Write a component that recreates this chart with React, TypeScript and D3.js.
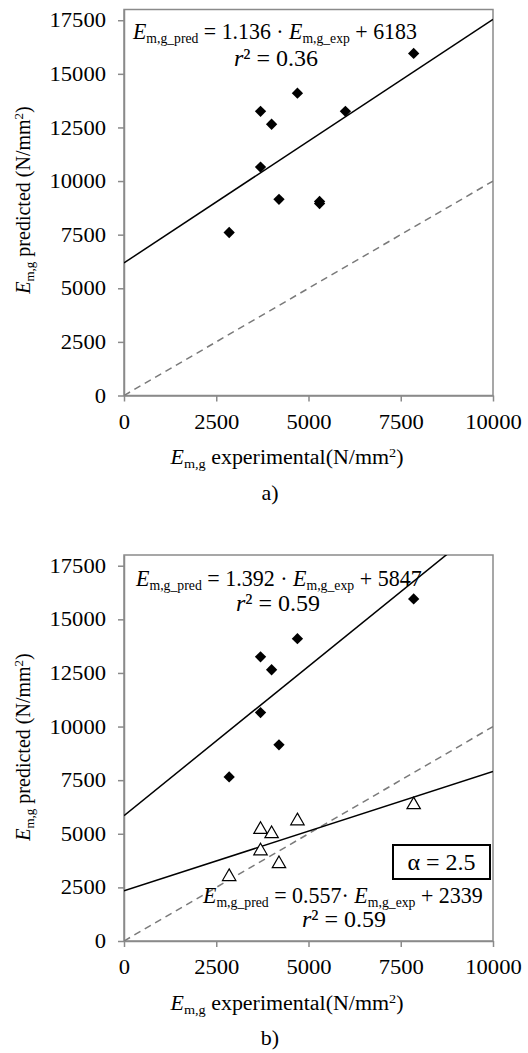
import React, { useEffect, useRef } from "react";
import * as d3 from "d3";

// axis ticks
const xTicks = [0, 2500, 5000, 7500, 10000];
const yTicks = [0, 2500, 5000, 7500, 10000, 12500, 15000, 17500];

// panel a) experimental vs predicted
const expA = [2850, 3700, 3700, 4000, 4200, 4700, 5300, 5300, 6000, 7850];
const predA = [7600, 10650, 13250, 12650, 9150, 14100, 9050, 8950, 13250, 15950];

// panel b) same specimens, two models
const expB = [2850, 3700, 3700, 4000, 4200, 4700, 7850];
const predB = [7650, 10650, 13250, 12650, 9150, 14100, 15950];
const predBAlpha = [3000, 4200, 5200, 5000, 3600, 5600, 6350];

// regression fits [slope, intercept, r2]
const fitA = [1.136, 6183, 0.36];
const fitB = [1.392, 5847, 0.59];
const fitBAlpha = [0.557, 2339, 0.59];

const FONT = '"Liberation Serif"';

type Part = { t: string; it?: boolean; sh?: number; fs?: number };

function rich(parent: any, parts: Part[], size: number) {
  const t = parent.append("text")
    .style("font-size", size + "px")
    .style("font-family", FONT)
    .attr("fill", "#000")
    .style("white-space", "pre");
  let cur = 0;
  parts.forEach(p => {
    const s = t.append("tspan").text(p.t);
    if (p.it) s.style("font-style", "italic");
    if (p.fs) s.style("font-size", p.fs + "px");
    const sh = p.sh || 0;
    if (sh !== cur) s.attr("dy", sh - cur);
    cur = sh;
  });
  return t;
}

// place a text so that it starts at x (or centred on x) and spans width w
function place(t: any, x: number, y: number, w: number | null, anchor = "start") {
  const len = (t.node() as SVGTextElement).getComputedTextLength();
  const sx = w ? w / len : 1;
  t.attr("text-anchor", anchor).attr("transform", `translate(${x},${y}) scale(${sx},1)`);
}

function eqParts(fit: number[], sep: string): Part[] {
  return [
    { t: "E", it: true },
    { t: "m,g_pred", fs: 15, sh: 4 },
    { t: ` = ${fit[0].toFixed(3)}${sep}· ` },
    { t: "E", it: true },
    { t: "m,g_exp", fs: 15, sh: 4 },
    { t: ` + ${fit[1]}` },
  ];
}

function r2Parts(fit: number[]): Part[] {
  return [{ t: "r", it: true }, { t: `² = ${fit[2].toFixed(2)}` }];
}

function drawPanel(svg: any, p: any) {
  const x = d3.scaleLinear().domain([0, 10000]).range([124, 493]);
  const y = d3.scaleLinear().domain([0, 18000]).range([p.bottom, p.bottom - 386]);
  const g = svg.append("g");

  const clipId = "clip-" + p.id;
  svg.append("clipPath").attr("id", clipId)
    .append("rect")
    .attr("x", x(0)).attr("y", y(18000))
    .attr("width", x(10000) - x(0)).attr("height", y(0) - y(18000));

  // frame
  g.append("rect")
    .attr("x", x(0)).attr("y", y(18000))
    .attr("width", x(10000) - x(0)).attr("height", y(0) - y(18000))
    .attr("fill", "none").attr("stroke", "#8a8a8a").attr("stroke-width", 1.5);

  const yAxis = g.append("g").attr("transform", `translate(${x(0)},0)`)
    .call(d3.axisLeft(y).tickValues(yTicks).tickSize(6).tickSizeOuter(0).tickFormat(d3.format("d")));
  const xAxis = g.append("g").attr("transform", `translate(0,${y(0)})`)
    .call(d3.axisBottom(x).tickValues(xTicks).tickSize(6).tickSizeOuter(0).tickFormat(d3.format("d")));
  [yAxis, xAxis].forEach(a => {
    a.attr("font-family", FONT).attr("font-size", null);
    a.select(".domain").attr("stroke", "#8a8a8a").attr("stroke-width", 1.5);
    a.selectAll(".tick line").attr("stroke", "#8a8a8a").attr("stroke-width", 1.5);
    a.selectAll("text").style("font-family", FONT).style("font-size", "20px").attr("fill", "#000");
  });
  yAxis.selectAll("text").attr("x", 0).attr("dy", "0.33em").attr("transform", "translate(-18,0) scale(1.13,1)");
  xAxis.selectAll("text").attr("y", 0).attr("dy", 0).attr("transform", "translate(0,33) scale(1.13,1)");

  const plot = g.append("g").attr("clip-path", `url(#${clipId})`);

  // 1:1 line
  plot.append("path")
    .attr("d", d3.line()([[x(0), y(0)], [x(10000), y(10000)]]))
    .attr("stroke", "#7a7a7a").attr("stroke-width", 1.5).attr("stroke-dasharray", "7,5").attr("fill", "none");

  // regression lines
  p.fits.forEach((f: number[]) => {
    const line = d3.line<number>().x(d => x(d)).y(d => y(f[0] * d + f[1]));
    plot.append("path").attr("d", line([0, 10000]))
      .attr("stroke", "#000").attr("stroke-width", 1.5).attr("fill", "none");
  });

  // markers
  p.series.forEach((s: any) => {
    const sym = s.kind === "diamond"
      ? d3.symbol().type(d3.symbolSquare).size(64)
      : d3.symbol().type(d3.symbolTriangle).size(78);
    g.append("g").selectAll("path")
      .data(s.x.map((v: number, i: number) => [v, s.y[i]]))
      .join("path")
      .attr("d", sym())
      .attr("transform", (d: number[]) => `translate(${x(d[0])},${y(d[1])})` + (s.kind === "diamond" ? " rotate(45)" : ""))
      .attr("fill", s.kind === "diamond" ? "#000" : "#fff")
      .attr("stroke", "#000")
      .attr("stroke-width", s.kind === "diamond" ? 0 : 1.2);
  });

  // equations
  p.eqs.forEach((e: any) => {
    place(rich(g, eqParts(e.fit, e.sep), 24), e.x, e.y, e.w);
    place(rich(g, r2Parts(e.fit), 24), e.rx, e.ry, null, "middle");
  });

  if (p.alpha) {
    g.append("rect").attr("x", 393).attr("y", p.alpha.y)
      .attr("width", 97).attr("height", 34)
      .attr("fill", "#fff").attr("stroke", "#000").attr("stroke-width", 2);
    place(rich(g, [{ t: p.alpha.text }], 24), 441.5, p.alpha.y + 25, null, "middle");
  }

  // axis titles
  const yl = rich(g, [
    { t: "E", it: true },
    { t: "m,g", fs: 13, sh: 4 },
    { t: " predicted (N/mm" },
    { t: "2", fs: 13, sh: -7 },
    { t: ")" },
  ], 20).attr("text-anchor", "middle");
  yl.attr("transform", `translate(30,${p.yLabel}) rotate(-90)`);

  place(rich(g, [
    { t: "E", it: true },
    { t: "m,g", fs: 13, sh: 4 },
    { t: " experimental(N/mm" },
    { t: "2", fs: 13, sh: -7 },
    { t: ")" },
  ], 20), 287, p.xLabel, 233, "middle");

  place(rich(g, [{ t: p.tag }], 22), 270, p.tagY, null, "middle");
}

export default function App() {
  const ref = useRef<SVGSVGElement>(null);
  useEffect(() => {
    const svg = d3.select(ref.current);
    svg.selectAll("*").remove();
    drawPanel(svg, {
      id: "a", bottom: 395.5,
      fits: [fitA],
      series: [{ x: expA, y: predA, kind: "diamond" }],
      eqs: [{ fit: fitA, sep: " ", x: 133, y: 39, w: 284, rx: 276, ry: 66 }],
      yLabel: 200, xLabel: 464, tag: "a)", tagY: 500,
    });
    drawPanel(svg, {
      id: "b", bottom: 941,
      fits: [fitB, fitBAlpha],
      series: [
        { x: expB, y: predB, kind: "diamond" },
        { x: expB, y: predBAlpha, kind: "triangle" },
      ],
      eqs: [
        { fit: fitB, sep: " ", x: 136, y: 586, w: 286, rx: 278, ry: 611 },
        { fit: fitBAlpha, sep: "", x: 203, y: 903, w: 280, rx: 344, ry: 927 },
      ],
      alpha: { y: 845, text: "α = 2.5" },
      yLabel: 747, xLabel: 1010, tag: "b)", tagY: 1045,
    });
  }, []);
  return (
    <svg ref={ref} width={528} height={1053}
      style={{ position: "absolute", left: 0, top: 0, background: "#fff", fontFamily: '"Liberation Serif"' }} />
  );
}
